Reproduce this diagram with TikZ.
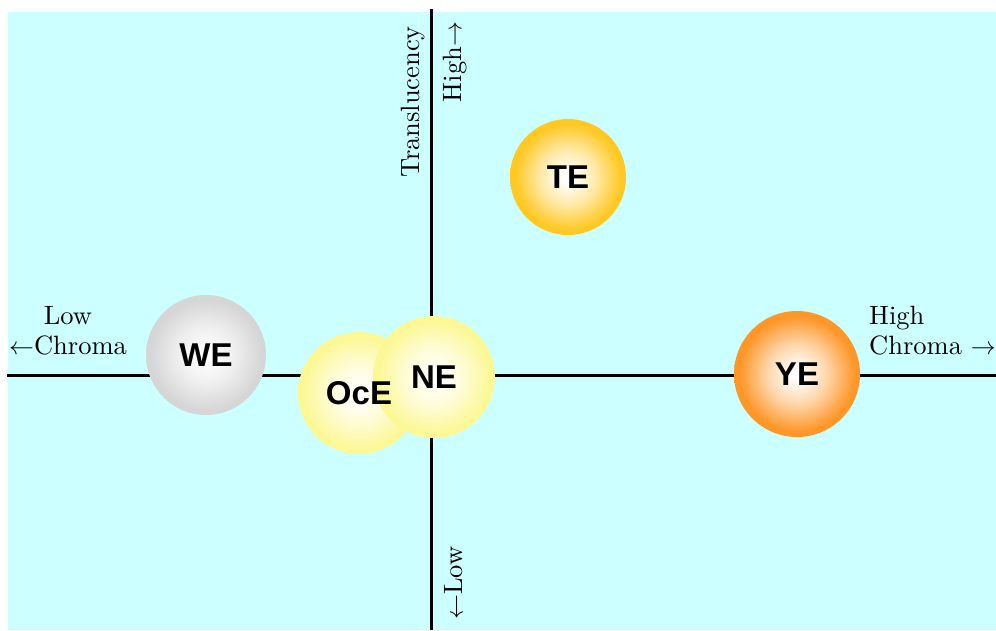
\documentclass[tikz,border=0pt]{standalone}
\usepackage{fontspec}
\newfontfamily\ballfont{Liberation Sans}
\newfontfamily\labelfont{lmroman10-regular}[Extension=.otf]
\definecolor{panelcyan}{RGB}{204,255,255}
\definecolor{tecol}{RGB}{255,200,34}
\definecolor{yecol}{RGB}{255,150,40}
\definecolor{wecol}{RGB}{214,214,214}
\definecolor{necol}{RGB}{252,248,150}
\colorlet{glowrim}{white}
% white centre fading to the rim colour at the edge of the circle
% (the path's bounding box covers the inner 50bp square of the shading)
\pgfdeclareradialshading[glowrim]{glow}{\pgfpoint{0bp}{0bp}}{%
  color(0bp)=(white); color(2bp)=(white); color(12bp)=(glowrim!40!white);
  color(23bp)=(glowrim); color(25bp)=(glowrim); color(50bp)=(glowrim)}
\tikzset{
  axisline/.style={line width=3.6pt, black},
  ball/.style={circle, inner sep=0pt, minimum size=#1, shading=glow},
  rim/.code={\colorlet{glowrim}{#1}},
  balltext/.style={inner sep=0pt, font=\ballfont\bfseries\fontsize{33}{33}\selectfont},
  axislabel/.style={font=\labelfont\fontsize{26.5}{30}\selectfont, inner sep=0pt},
}
\begin{document}
\begin{tikzpicture}[x=1pt, y=-1pt]
  \useasboundingbox (0,0) rectangle (996,630);
  \fill[panelcyan] (8,12) rectangle (996,630);

  % axes
  \coordinate (xl) at (7,375.5);
  \coordinate (xr) at (996,375.5);
  \coordinate (yt) at (431.5,9);
  \coordinate (yb) at (431.5,630);
  \draw[axisline] (xl) -- (xr);
  \draw[axisline] (yt) -- (yb);

  % axis labels
  \node[axislabel, align=center] (lowchroma) at (68,331) {Low\\$\leftarrow$Chroma};
  \node[axislabel, align=left, anchor=west] (highchroma) at (869,331) {High\\Chroma $\rightarrow$};
  \node[axislabel, rotate=90] (transl) at (413,102) {Translucency};
  \node[axislabel, rotate=90] (highup) at (455,62) {High$\rightarrow$};
  \node[axislabel, rotate=90] (lowdown) at (454,583) {$\leftarrow$Low};

  % enamel groups: discs first, names on top
  \node[ball=116pt, rim=tecol] (te) at (568,177) {};
  \node[ball=126pt, rim=yecol] (ye) at (797,374) {};
  \node[ball=120pt, rim=wecol] (we) at (206,355) {};
  \node[ball=122pt, rim=necol] (oce) at (359,393) {};
  \node[ball=122pt, rim=necol] (ne) at (434,377) {};

  \node[balltext] (tename) at (te) {TE};
  \node[balltext] (yename) at (ye) {YE};
  \node[balltext] (wename) at (we) {WE};
  \node[balltext] (ocename) at (oce) {OcE};
  \node[balltext] (nename) at (ne) {NE};
\end{tikzpicture}
\end{document}
